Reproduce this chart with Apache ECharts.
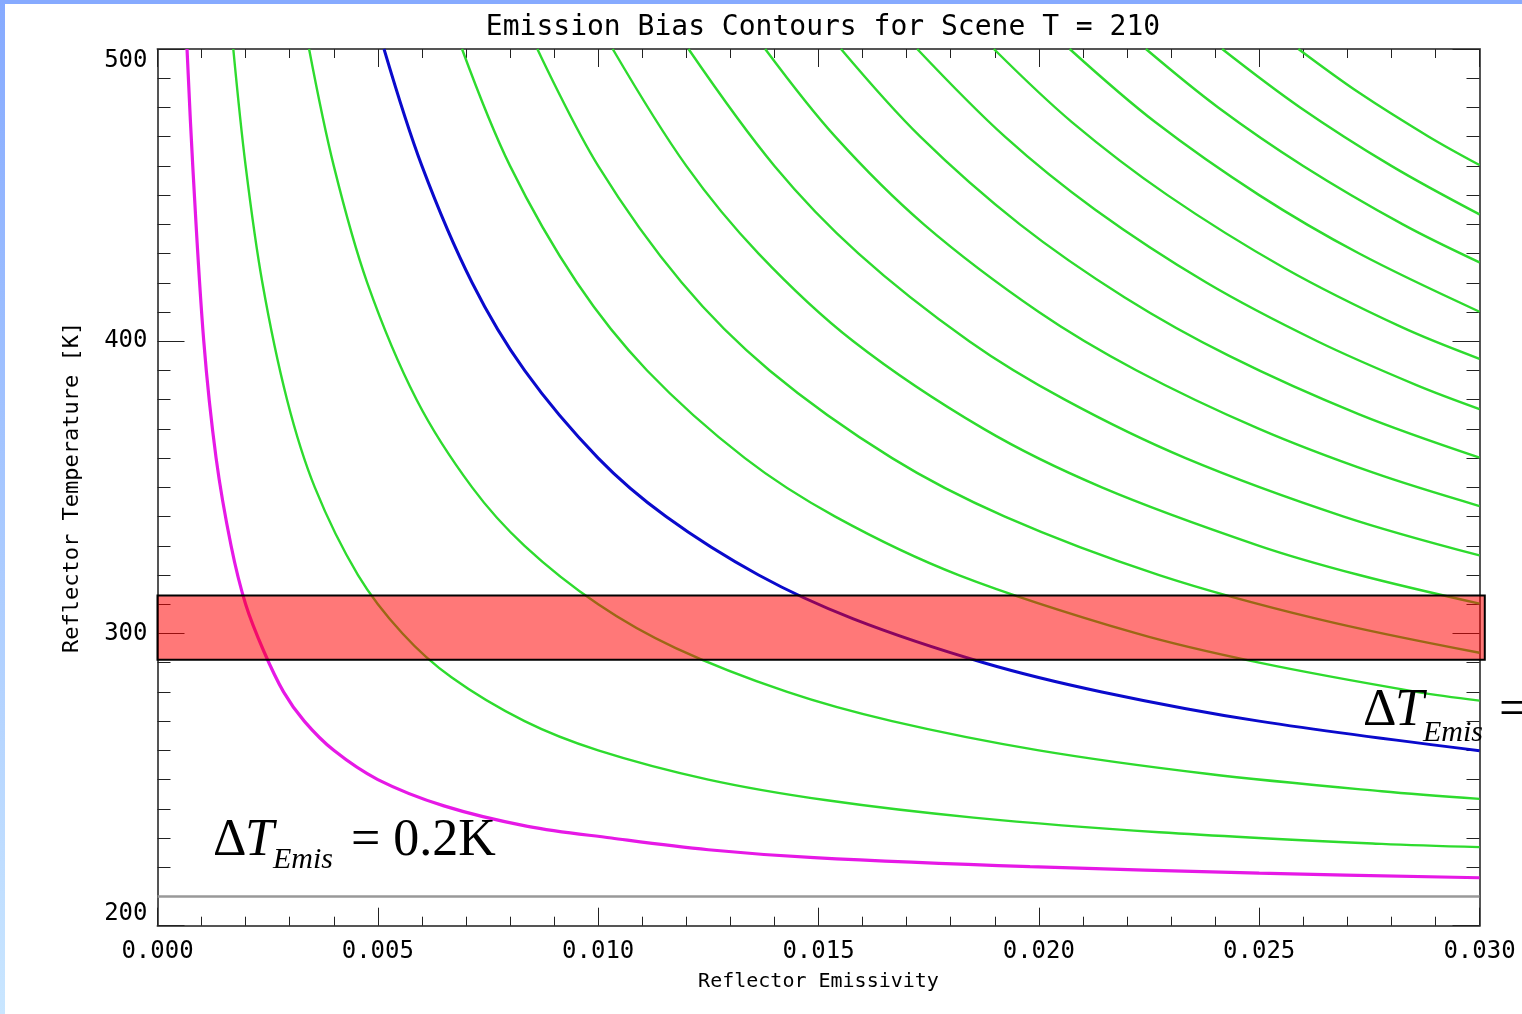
<!DOCTYPE html>
<html>
<head>
<meta charset="utf-8">
<title>Emission Bias Contours</title>
<script src="https://cdn.jsdelivr.net/npm/echarts@6/dist/echarts.min.js"></script>
<style>
  html, body { margin: 0; padding: 0; background: #fff; }
  #chart { width: 1522px; height: 1014px; }
</style>
</head>
<body>
<div id="chart"></div>
<script>
// contour lines, [emissivity, reflector temperature]
var curve0_2 = [[0.00067,500],[0.00080,460],[0.00105,400],[0.00133,360],[0.00167,330],[0.00200,310],[0.00241,294],[0.00286,280],[0.00333,270],[0.00400,260],[0.00500,250],[0.00650,241],[0.00840,234],[0.01030,230],[0.01250,226],[0.01490,223.3],[0.01980,220.2],[0.02500,218],[0.03000,216.4]];
var curve0_5 = [[0.00172,500],[0.00200,460],[0.00238,420],[0.00294,380],[0.00357,350],[0.00455,320],[0.00556,300],[0.00667,285],[0.00833,270],[0.01000,260],[0.01250,250],[0.01515,243],[0.01852,237],[0.02273,232],[0.02778,228],[0.03000,226.9]];
var curve1_0 = [[0.00344,500],[0.00400,460],[0.00476,420],[0.00588,380],[0.00714,350],[0.00833,330],[0.01000,310],[0.01176,295],[0.01429,280],[0.01667,270],[0.02000,260],[0.02381,252],[0.02778,246],[0.03000,243.4]];
var curve1_5 = [[0.00514,500],[0.00600,460],[0.00714,420],[0.00833,390],[0.01000,360],[0.01154,340],[0.01364,320],[0.01579,305],[0.01875,290],[0.02143,280],[0.02500,270],[0.03000,259.9]];
var curve2_0 = [[0.00691,500],[0.00800,460],[0.00952,420],[0.01111,390],[0.01333,360],[0.01538,340],[0.01818,320],[0.02222,300],[0.02500,290],[0.02857,280],[0.03000,277]];
var curve2_5 = [[0.00862,500],[0.01000,460],[0.01190,420],[0.01389,390],[0.01667,360],[0.01923,340],[0.02273,320],[0.02632,305],[0.03000,293.4]];
var curve3_0 = [[0.01033,500],[0.01200,460],[0.01364,430],[0.01579,400],[0.01875,370],[0.02143,350],[0.02500,330],[0.02727,320],[0.03000,310.2]];
var curve3_5 = [[0.01205,500],[0.01400,460],[0.01591,430],[0.01842,400],[0.02059,380],[0.02333,360],[0.02692,340],[0.03000,326.7]];
var curve4_0 = [[0.01379,500],[0.01538,470],[0.01739,440],[0.02000,410],[0.02222,390],[0.02500,370],[0.02759,355],[0.03000,343.6]];
var curve4_5 = [[0.01551,500],[0.01731,470],[0.01957,440],[0.02195,415],[0.02432,395],[0.02727,375],[0.03000,360.2]];
var curve5_0 = [[0.01724,500],[0.01923,470],[0.02128,445],[0.02381,420],[0.02632,400],[0.02857,385],[0.03000,376.8]];
var curve5_5 = [[0.01898,500],[0.02075,475],[0.02292,450],[0.02558,425],[0.02821,405],[0.03000,394]];
var curve6_0 = [[0.02070,500],[0.02264,475],[0.02500,450],[0.02727,430],[0.03000,410.1]];
var curve6_5 = [[0.02243,500],[0.02407,480],[0.02600,460],[0.02826,440],[0.03000,427]];
var curve7_0 = [[0.02416,500],[0.02593,480],[0.02800,460],[0.03000,443.4]];
var curve7_5 = [[0.02589,500],[0.02727,485],[0.02885,470],[0.03000,460.3]];

var sceneLine = [[0, 210], [0.03, 210]];   // scene T
var bandEps = [0, 0.03012];               // red band, emissivity extent
var bandTemp = [291, 313];                // red band, temperature extent

var xTicks = [0, 0.005, 0.010, 0.015, 0.020, 0.025, 0.030];
var yTicks = [200, 300, 400, 500];

var greens = [curve0_5, curve1_0, curve2_0, curve2_5, curve3_0, curve3_5, curve4_0,
              curve4_5, curve5_0, curve5_5, curve6_0, curve6_5, curve7_0, curve7_5];

var chart = echarts.init(document.getElementById('chart'));

var labelFont = 'DejaVu Sans Mono';
var axisCol = '#555';

function lineSeries(data, color, width) {
    return {
        type: 'line',
        data: data,
        showSymbol: false,
        smooth: 0.35,
        silent: true,
        z: 2,
        lineStyle: { color: color, width: width }
    };
}

var series = [];
greens.forEach(function (c) { series.push(lineSeries(c, '#2edb2e', 2.4)); });
series.push(lineSeries(curve1_5, '#0a0acc', 3));
series.push(lineSeries(curve0_2, '#e619e6', 3.2));
series.push(Object.assign(lineSeries(sceneLine, '#999999', 2.5), { smooth: false }));

// semi-transparent band drawn over the lines
series.push({
    type: 'custom',
    silent: true,
    z: 5,
    clip: false,
    data: [[bandEps[0], bandTemp[0], bandEps[1], bandTemp[1]]],
    encode: { x: [0, 2], y: [1, 3] },
    renderItem: function (params, api) {
        var p0 = api.coord([api.value(0), api.value(3)]);
        var p1 = api.coord([api.value(2), api.value(1)]);
        return {
            type: 'rect',
            shape: { x: p0[0], y: p0[1], width: p1[0] - p0[0], height: p1[1] - p0[1] },
            style: { fill: 'rgba(255,0,0,0.53)', stroke: '#000', lineWidth: 2 }
        };
    }
});

function xAx(pos, showLabel) {
    return {
        type: 'value',
        position: pos,
        min: xTicks[0],
        max: xTicks[xTicks.length - 1],
        interval: 0.005,
        axisLine: { show: true, onZero: false, lineStyle: { color: axisCol, width: 2 } },
        axisTick: { show: true, inside: true, length: 18, lineStyle: { color: '#222', width: 1 } },
        minorTick: { show: true, splitNumber: 5, length: 9, lineStyle: { color: '#222', width: 1 } },
        splitLine: { show: false },
        axisLabel: {
            show: showLabel, margin: 14, color: '#000',
            fontFamily: labelFont, fontSize: 24,
            formatter: function (v) { return v.toFixed(3); }
        },
        name: showLabel ? 'Reflector Emissivity' : '',
        nameLocation: 'middle',
        nameGap: 46,
        nameTextStyle: { color: '#000', fontFamily: labelFont, fontSize: 20 }
    };
}

function yAx(pos, showLabel) {
    return {
        type: 'value',
        position: pos,
        min: yTicks[0],
        max: yTicks[yTicks.length - 1],
        interval: 100,
        axisLine: { show: true, onZero: false, lineStyle: { color: axisCol, width: 2 } },
        axisTick: { show: true, inside: true, length: 27, lineStyle: { color: '#222', width: 1 } },
        minorTick: { show: true, splitNumber: 10, length: 13, lineStyle: { color: '#222', width: 1 } },
        splitLine: { show: false },
        axisLabel: {
            show: showLabel, margin: 10, color: '#000',
            fontFamily: labelFont, fontSize: 24,
            verticalAlignMaxLabel: 'top',
            verticalAlignMinLabel: 'bottom'
        },
        name: showLabel ? 'Reflector Temperature [K]' : '',
        nameLocation: 'middle',
        nameRotate: 90,
        nameGap: 74,
        nameTextStyle: { color: '#000', fontFamily: labelFont, fontSize: 22 }
    };
}

function annot(x, base, subBase) {
    var big = 52, sub = 30;
    return [
        { type: 'text', x: x, y: base - 17, z: 10,
          style: { text: 'Δ', font: big + 'px "Liberation Serif"', fill: '#000', verticalAlign: 'middle' } },
        { type: 'text', x: x + 32, y: base - 17, z: 10,
          style: { text: 'T', font: 'italic ' + big + 'px "Liberation Serif"', fill: '#000', verticalAlign: 'middle' } },
        { type: 'text', x: x + 60, y: subBase - 10, z: 10,
          style: { text: 'Emis', font: 'italic ' + sub + 'px "Liberation Serif"', fill: '#000', verticalAlign: 'middle' } }
    ];
}

var graphics = [
    { type: 'rect', left: 0, top: 0, shape: { width: 1522, height: 4 }, style: { fill: '#86aaff' }, z: 20 },
    { type: 'rect', left: 0, top: 0, shape: { width: 5, height: 1014 }, z: 20,
      style: { fill: new echarts.graphic.LinearGradient(0, 0, 0, 1, [
          { offset: 0, color: '#86aaff' }, { offset: 1, color: '#c9e6ff' }]) } }
];
graphics = graphics.concat(annot(213, 858, 870));
graphics.push({ type: 'text', x: 351, y: 858 - 17, z: 10,
    style: { text: '= 0.2K', font: '52px "Liberation Serif"', fill: '#000', verticalAlign: 'middle' } });
graphics = graphics.concat(annot(1363, 728, 743));
graphics.push({ type: 'text', x: 1499, y: 728 - 17, z: 10,
    style: { text: '=', font: '52px "Liberation Serif"', fill: '#000', verticalAlign: 'middle' } });

chart.setOption({
    backgroundColor: '#fff',
    animation: false,
    title: {
        text: 'Emission Bias Contours for Scene T = 210',
        left: 818,
        textAlign: 'center',
        top: 9,
        textStyle: { color: '#000', fontFamily: labelFont, fontSize: 28, fontWeight: 'normal' }
    },
    grid: { left: 157.5, right: 42.5, top: 49, bottom: 88.3 },
    xAxis: [xAx('bottom', true), xAx('top', false)],
    yAxis: [yAx('left', true), yAx('right', false)],
    series: series,
    graphic: graphics
});
</script>
</body>
</html>
